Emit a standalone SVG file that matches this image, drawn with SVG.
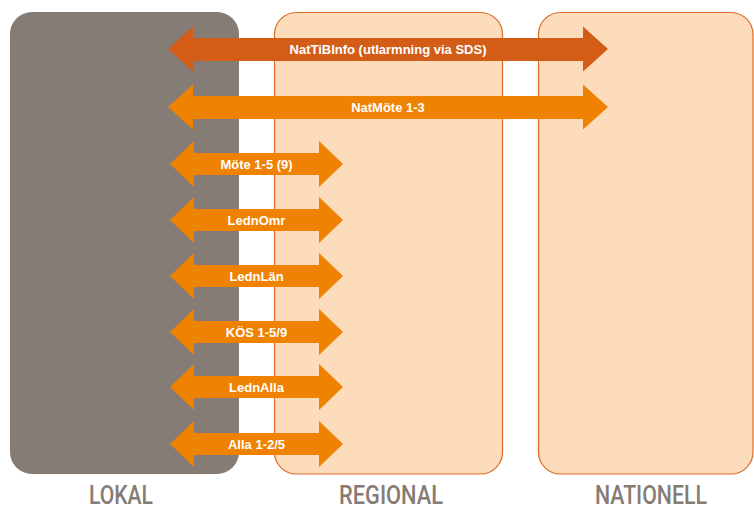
<svg xmlns="http://www.w3.org/2000/svg" width="754" height="509" viewBox="0 0 754 509">
<style>
.lokal{fill:#857c75}
.zone{fill:#fcdcba;stroke:#dd6b24;stroke-width:1.2}
.dark{fill:#d35c17}
.light{fill:#ef8200}
.lbl{font-family:"Liberation Sans",Arial,sans-serif;font-weight:bold;font-size:13px;fill:#ffffff;text-anchor:middle}
.zlbl{font-family:Roboto,"Liberation Sans",sans-serif;font-weight:500;font-size:25px;fill:#857c75;text-anchor:middle}
</style>
<g id="lokal"><rect class="lokal" x="10" y="12" width="229" height="462" rx="22"/><text class="zlbl" x="121" y="504" textLength="64" lengthAdjust="spacingAndGlyphs">LOKAL</text></g>
<g id="regional"><rect class="zone" x="274.5" y="12.5" width="228" height="461.5" rx="22"/><text class="zlbl" x="391" y="504" textLength="104" lengthAdjust="spacingAndGlyphs">REGIONAL</text></g>
<g id="nationell"><rect class="zone" x="538.5" y="12.5" width="214.5" height="461.5" rx="22"/><text class="zlbl" x="651" y="504" textLength="112" lengthAdjust="spacingAndGlyphs">NATIONELL</text></g>
<g id="connectors">
<g id="a-nattibinfo"><path class="dark" d="M168,49 L193,26.5 L193,38 L583,38 L583,26.5 L608,49 L583,71.5 L583,61 L193,61 L193,71.5 Z"/><text class="lbl" x="388" y="54">NatTiBInfo (utlarmning via SDS)</text></g>
<g id="a-natmote"><path class="light" d="M168,107 L193,84.5 L193,96 L583,96 L583,84.5 L608,107 L583,129.5 L583,119 L193,119 L193,129.5 Z"/><text class="lbl" x="388" y="112">NatMöte 1-3</text></g>
<g id="a-mote"><path class="light" d="M170,164 L194,141 L194,153 L319,153 L319,141 L343,164 L319,187 L319,175 L194,175 L194,187 Z"/><text class="lbl" x="256.5" y="169">Möte 1-5 (9)</text></g>
<g id="a-lednomr"><path class="light" d="M170,220 L194,197 L194,209 L319,209 L319,197 L343,220 L319,243 L319,231 L194,231 L194,243 Z"/><text class="lbl" x="256.5" y="225">LednOmr</text></g>
<g id="a-lednlan"><path class="light" d="M170,276 L194,253 L194,265 L319,265 L319,253 L343,276 L319,299 L319,287 L194,287 L194,299 Z"/><text class="lbl" x="256.5" y="281">LednLän</text></g>
<g id="a-kos"><path class="light" d="M170,332 L194,309 L194,321 L319,321 L319,309 L343,332 L319,355 L319,343 L194,343 L194,355 Z"/><text class="lbl" x="256.5" y="337">KÖS 1-5/9</text></g>
<g id="a-lednalla"><path class="light" d="M170,387 L194,364 L194,376 L319,376 L319,364 L343,387 L319,410 L319,398 L194,398 L194,410 Z"/><text class="lbl" x="256.5" y="392">LednAlla</text></g>
<g id="a-alla"><path class="light" d="M170,444 L194,421 L194,433 L319,433 L319,421 L343,444 L319,467 L319,455 L194,455 L194,467 Z"/><text class="lbl" x="256.5" y="449">Alla 1-2/5</text></g>
</g>
</svg>
